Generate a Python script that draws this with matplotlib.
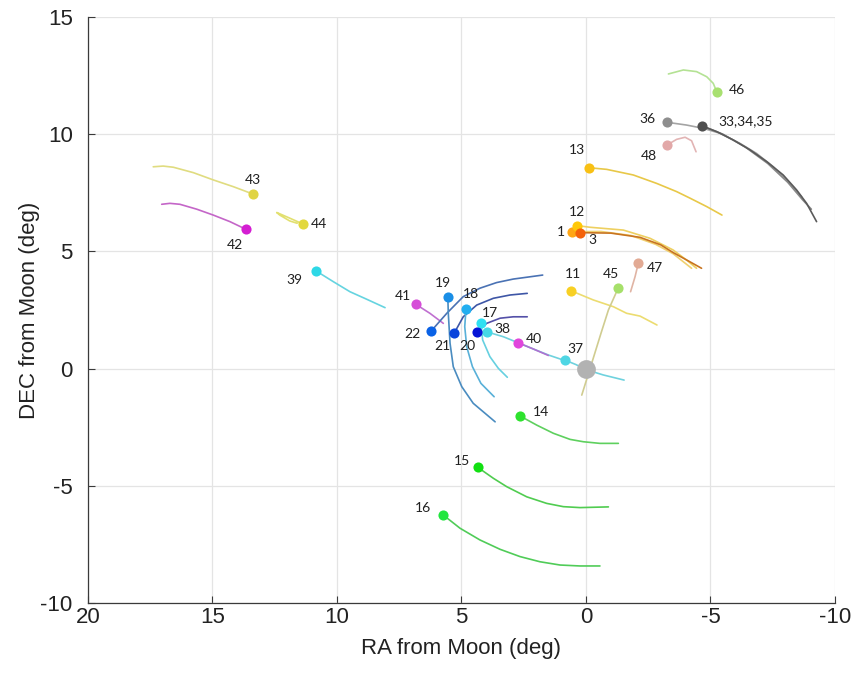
import matplotlib
matplotlib.use('Agg')
import matplotlib.pyplot as plt
from matplotlib import font_manager

plt.rcParams['axes.unicode_minus'] = False

# ---------------- data ----------------
moon_ra = [0.0]
moon_dec = [0.0]

obj_labels = ['37', '40', '38', '17', '20', '18', '21', '19', '22', '41', '39',
              '42', '43', '44', '11', '45', '47', '1', '12', '3', '13', '48',
              '36', '33,34,35', '46', '14', '15', '16']
obj_ra = [0.84, 2.72, 3.99, 4.22, 4.39, 4.82, 5.30, 5.55, 6.22, 6.83, 10.86,
          13.65, 13.36, 11.35, 0.60, -1.30, -2.10, 0.55, 0.35, 0.24, -0.12, -3.24,
          -3.24, -4.67, -5.25, 2.65, 4.35, 5.73]
obj_dec = [0.36, 1.10, 1.57, 1.93, 1.55, 2.53, 1.50, 3.07, 1.60, 2.74, 4.18,
           5.94, 7.44, 6.16, 3.32, 3.45, 4.49, 5.84, 6.10, 5.80, 8.57, 9.53,
           10.51, 10.35, 11.81, -2.02, -4.21, -6.25]

# trails (RA, DEC) read along each track
tr37_ra = [0.84, 0.40, 0.04, -0.69, -1.53]
tr37_dec = [0.36, 0.17, -0.03, -0.27, -0.49]
tr38_ra = [3.99, 3.32, 2.72, 2.10, 1.51, 0.84]
tr38_dec = [1.57, 1.36, 1.10, 0.83, 0.58, 0.34]
tr40_ra = [2.72, 2.10, 1.51]
tr40_dec = [1.10, 0.83, 0.56]
tr41_ra = [6.83, 6.27, 5.73]
tr41_dec = [2.74, 2.36, 1.93]
tr39_ra = [10.86, 10.15, 9.48, 8.81, 8.07]
tr39_dec = [4.18, 3.71, 3.28, 2.96, 2.60]
tr42_ra = [13.65, 14.30, 14.97, 15.63, 16.31, 16.71, 17.04]
tr42_dec = [5.94, 6.27, 6.55, 6.80, 7.01, 7.05, 7.01]
tr43_ra = [13.36, 14.16, 14.97, 15.77, 16.57, 16.98, 17.38]
tr43_dec = [7.44, 7.76, 8.05, 8.36, 8.59, 8.64, 8.61]
tr44_ra = [11.35, 11.90, 12.42, 12.30, 11.90, 11.60]
tr44_dec = [6.16, 6.42, 6.66, 6.55, 6.30, 6.20]
tr11_ra = [0.60, -0.29, -1.10, -1.63, -2.17, -2.85]
tr11_dec = [3.32, 2.93, 2.64, 2.36, 2.24, 1.86]
tr45_ra = [-1.30, -0.90, -0.60, -0.25, 0.17]
tr45_dec = [3.45, 2.50, 1.50, 0.30, -1.13]
tr47_ra = [-2.10, -1.97, -1.79]
tr47_dec = [4.49, 3.92, 3.28]
tr1_ra = [0.55, -0.60, -1.80, -2.80, -3.50, -4.24]
tr1_dec = [5.84, 5.85, 5.68, 5.30, 4.90, 4.28]
tr12_ra = [0.35, -0.16, -1.50, -2.57, -3.50, -4.04, -4.44]
tr12_dec = [6.10, 6.03, 5.91, 5.56, 5.06, 4.63, 4.28]
tr3_ra = [0.24, -1.00, -2.17, -3.00, -3.50, -4.10, -4.64]
tr3_dec = [5.80, 5.78, 5.60, 5.28, 4.95, 4.60, 4.28]
tr13_ra = [-0.12, -0.83, -1.90, -2.84, -3.64, -4.18, -4.85, -5.46]
tr13_dec = [8.57, 8.50, 8.26, 7.90, 7.55, 7.27, 6.91, 6.55]
tr48_ra = [-3.24, -3.64, -3.98, -4.24, -4.42]
tr48_dec = [9.53, 9.78, 9.87, 9.72, 9.25]
tr46_ra = [-5.25, -5.11, -4.85, -4.44, -3.91, -3.31]
tr46_dec = [11.81, 12.17, 12.45, 12.67, 12.74, 12.57]
tr36_ra = [-3.24, -4.04, -4.71, -5.38, -6.18, -6.85, -7.52, -8.06, -8.66]
tr36_dec = [10.51, 10.39, 10.25, 10.04, 9.61, 9.18, 8.61, 8.05, 7.33]
tr33_ra = [-4.67, -5.25, -5.92, -6.59, -7.26, -7.92, -8.46, -8.86, -9.26]
tr33_dec = [10.35, 10.11, 9.75, 9.33, 8.83, 8.26, 7.62, 7.05, 6.27]
tr34_ra = [-4.67, -5.50, -6.40, -7.30, -8.10, -8.70, -9.05]
tr34_dec = [10.35, 10.00, 9.45, 8.75, 7.95, 7.20, 6.80]
tr14_ra = [2.65, 1.98, 1.31, 0.64, 0.11, -0.56, -1.30]
tr14_dec = [-2.02, -2.41, -2.76, -3.02, -3.12, -3.19, -3.19]
tr15_ra = [4.35, 3.72, 3.18, 2.38, 1.58, 0.91, 0.24, -0.90]
tr15_dec = [-4.21, -4.68, -5.04, -5.47, -5.75, -5.89, -5.93, -5.90]
tr16_ra = [5.73, 5.06, 4.26, 3.45, 2.65, 1.85, 1.04, 0.24, -0.56]
tr16_dec = [-6.25, -6.81, -7.31, -7.71, -8.02, -8.24, -8.38, -8.42, -8.42]
tr22_ra = [6.22, 5.59, 4.93, 4.26, 3.59, 2.92, 1.74]
tr22_dec = [1.60, 2.36, 3.07, 3.43, 3.67, 3.82, 3.99]
tr21_ra = [5.30, 4.93, 4.39, 3.72, 3.05, 2.36]
tr21_dec = [1.50, 2.21, 2.71, 3.00, 3.14, 3.21]
tr20_ra = [4.39, 3.99, 3.45, 2.92, 2.36]
tr20_dec = [1.55, 1.93, 2.15, 2.21, 2.21]
tr19_ra = [5.55, 5.53, 5.46, 5.33, 4.99, 4.53, 3.65]
tr19_dec = [3.07, 2.36, 1.08, 0.08, -0.77, -1.48, -2.27]
tr18_ra = [4.82, 4.87, 4.79, 4.56, 4.22, 3.69]
tr18_dec = [2.53, 1.79, 0.93, 0.08, -0.63, -1.20]
tr17_ra = [4.22, 4.15, 3.86, 3.52, 3.16]
tr17_dec = [1.93, 1.22, 0.51, 0.01, -0.37]

x_ticks = [20, 15, 10, 5, 0, -5, -10]
y_ticks = [-10, -5, 0, 5, 10, 15]

# ---------------- styles ----------------
marker_colors = ['#4fd6e4', '#e046dc', '#44d8e6', '#2ee0f2', '#0614d6', '#22aef0',
                 '#0a44dc', '#1a8ee6', '#0a62e6', '#d64ed8', '#2ed8e6',
                 '#d41ed2', '#e0d444', '#e2d83e', '#f8d024', '#a6e06a', '#e2aa94',
                 '#ffa614', '#ffc808', '#f4620a', '#f8c014', '#e2a8a8',
                 '#8e8e8e', '#505050', '#a8e070', '#2ee22e', '#12e012', '#22e63e']
label_offsets = [(10, 11), (16, 4), (16, 3), (9, 10), (-9, -14), (5, 15), (-12, -13),
                 (-5, 14), (-19, -3), (-13, 8), (-21, -9),
                 (-11, -16), (0, 14), (16, 0), (2, 17), (-7, 14), (17, -5),
                 (-11, 0), (0, 14), (12, -7), (-12, 18), (-18, -11),
                 (-19, 3), (43, 5), (20, 2), (21, 4), (-16, 6), (-20, 7)]

trail_styles = [
    (tr38_ra, tr38_dec, '#6fd2de'),
    (tr37_ra, tr37_dec, '#6fd2de'),
    (tr40_ra, tr40_dec, '#b070d0'),
    (tr41_ra, tr41_dec, '#c070d0'),
    (tr39_ra, tr39_dec, '#66d4e0'),
    (tr42_ra, tr42_dec, '#c466c8'),
    (tr43_ra, tr43_dec, '#e0dc80'),
    (tr44_ra, tr44_dec, '#e2e070'),
    (tr11_ra, tr11_dec, '#ecdc70'),
    (tr45_ra, tr45_dec, '#d0cc90'),
    (tr47_ra, tr47_dec, '#e0b4a4'),
    (tr1_ra, tr1_dec, '#f0d070'),
    (tr12_ra, tr12_dec, '#eed060'),
    (tr3_ra, tr3_dec, '#c87420'),
    (tr13_ra, tr13_dec, '#e8c848'),
    (tr48_ra, tr48_dec, '#e2b4b4'),
    (tr46_ra, tr46_dec, '#b4e294'),
    (tr36_ra, tr36_dec, '#a4a4a4'),
    (tr34_ra, tr34_dec, '#888888'),
    (tr33_ra, tr33_dec, '#5a5a5a'),
    (tr14_ra, tr14_dec, '#5ed05e'),
    (tr15_ra, tr15_dec, '#50cc50'),
    (tr16_ra, tr16_dec, '#50cc58'),
    (tr22_ra, tr22_dec, '#4a72b4'),
    (tr21_ra, tr21_dec, '#3e56a6'),
    (tr20_ra, tr20_dec, '#5450a8'),
    (tr19_ra, tr19_dec, '#4a8cc0'),
    (tr18_ra, tr18_dec, '#58b0d8'),
    (tr17_ra, tr17_dec, '#66d0e0'),
]

names = {f.name for f in font_manager.fontManager.ttflist}
axis_font = 'Liberation Sans' if 'Liberation Sans' in names else 'DejaVu Sans'
label_font = 'Lato' if 'Lato' in names else 'DejaVu Sans'

fig = plt.figure(figsize=(8.53, 6.76), dpi=100)
ax = fig.add_axes([88 / 853, 1 - 603 / 676, 747 / 853, 586 / 676])

for tra, tdec, col in trail_styles:
    ax.plot(tra, tdec, color=col, lw=1.2, zorder=2, solid_capstyle='round',
            solid_joinstyle='round')

for lab, ra, dec, col, off in zip(obj_labels, obj_ra, obj_dec, marker_colors, label_offsets):
    ax.plot([ra], [dec], 'o', color=col, ms=7.3, mec='none', zorder=4)
    ax.annotate(lab, (ra, dec), xytext=off, textcoords='offset pixels',
                ha='center', va='center', fontsize=10, family=label_font,
                color='#202020', zorder=5)

ax.plot(moon_ra, moon_dec, 'o', color='#b2b2b2', ms=13.5, mec='none', zorder=3)

ax.set_xlim(20, -10)
ax.set_ylim(-10, 15)
ax.set_xticks(x_ticks)
ax.set_yticks(y_ticks)
ax.set_xticklabels([str(t) for t in x_ticks])
ax.set_yticklabels([str(t) for t in y_ticks])
ax.grid(True, color='#e4e4e4', lw=0.9)
ax.set_axisbelow(True)
for s in ['top', 'right']:
    ax.spines[s].set_visible(False)
for s in ['left', 'bottom']:
    ax.spines[s].set_color('#3a3a3a')
    ax.spines[s].set_linewidth(0.9)
ax.tick_params(direction='in', length=5, width=0.8, color='#3a3a3a',
               labelcolor='#222222', labelsize=16)
for t in ax.get_xticklabels() + ax.get_yticklabels():
    t.set_family(axis_font)
ax.tick_params(axis='y', pad=11)
ax.tick_params(axis='x', pad=3)
ax.set_xlabel('RA from Moon (deg)', fontsize=16, family=axis_font, color='#222222')
ax.set_ylabel('DEC from Moon (deg)', fontsize=16, family=axis_font, color='#222222')
ax.xaxis.set_label_coords(0.5, -0.06)
ax.yaxis.set_label_coords(-0.064, 0.5)

fig.savefig('out.png', dpi=100)
